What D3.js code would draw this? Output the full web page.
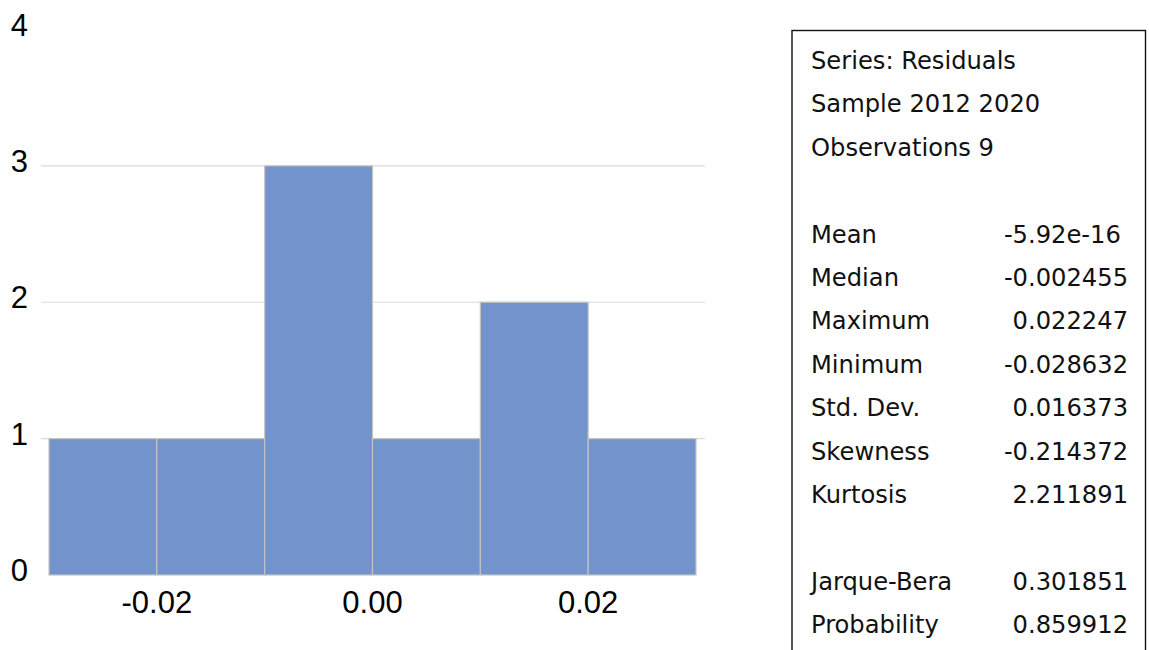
<!DOCTYPE html>
<html>
<head>
<meta charset="utf-8">
<script src="https://cdn.jsdelivr.net/npm/d3@7"></script>
<style>
  html, body { margin: 0; padding: 0; background: #fff; }
  svg { display: block; }
</style>
</head>
<body>
<svg id="chart" width="1149" height="650"></svg>
<script>
// ---- data ----
const binStarts = [-0.03, -0.02, -0.01, 0.00, 0.01, 0.02];
const binWidth = 0.01;
const counts = [1, 1, 3, 1, 2, 1];
const xTicks = [-0.02, 0.00, 0.02];
const yTicks = [0, 1, 2, 3, 4];
const gridValues = [1, 2, 3];
const headerLines = ["Series: Residuals", "Sample 2012 2020", "Observations 9"];
const statNames = ["Mean", "Median", "Maximum", "Minimum", "Std. Dev.", "Skewness", "Kurtosis"];
const statValues = ["-5.92e-16", "-0.002455", "0.022247", "-0.028632", "0.016373", "-0.214372", "2.211891"];
const testNames = ["Jarque-Bera", "Probability"];
const testValues = ["0.301851", "0.859912"];

// ---- drawing ----
const svg = d3.select("#chart");
const x = d3.scaleLinear().domain([-0.03, 0.03]).range([49, 696]);
const y = d3.scaleLinear().domain([0, 4]).range([575, 29.5]);
const fmtX = d => d3.format(".2f")(d).replace("\u2212", "-");

// gridlines
svg.append("g").selectAll("line").data(gridValues).join("line")
  .attr("x1", 41).attr("x2", 705)
  .attr("y1", d => y(d)).attr("y2", d => y(d))
  .attr("stroke", "#dcdcdc").attr("stroke-width", 1.2);

// bars
svg.append("g").selectAll("rect").data(binStarts).join("rect")
  .attr("x", d => x(d))
  .attr("width", d => x(d + binWidth) - x(d))
  .attr("y", (d, i) => y(counts[i]))
  .attr("height", (d, i) => y(0) - y(counts[i]))
  .attr("fill", "#7293cb")
  .attr("stroke", "#c4c4c4").attr("stroke-width", 1.2);

// y tick labels
svg.append("g").selectAll("text").data(yTicks).join("text")
  .attr("x", 28).attr("y", d => y(d) + 6)
  .attr("text-anchor", "end")
  .attr("font-family", "Liberation Sans, Arial, sans-serif")
  .attr("font-size", 31).attr("fill", "#000")
  .text(d => d3.format("d")(d));

// x tick labels
svg.append("g").selectAll("text").data(xTicks).join("text")
  .attr("x", d => x(d)).attr("y", 613)
  .attr("text-anchor", "middle")
  .attr("font-family", "Liberation Sans, Arial, sans-serif")
  .attr("font-size", 31).attr("fill", "#000")
  .text(fmtX);

// stats box
svg.append("rect")
  .attr("x", 792).attr("y", 30.5)
  .attr("width", 1145.5 - 792).attr("height", 700)
  .attr("fill", "none").attr("stroke", "#111").attr("stroke-width", 1.4);

const lineY = i => 69 + i * 43.4;
const fontF = "DejaVu Sans, sans-serif";
const fs = 24.2;
const labelX = 811;
const decX = 1028;

const g = svg.append("g").attr("font-family", fontF).attr("font-size", fs).attr("fill", "#111");
headerLines.forEach((t, i) => {
  g.append("text").attr("x", labelX).attr("y", lineY(i)).text(t);
});
function statRow(name, val, i) {
  g.append("text").attr("x", labelX).attr("y", lineY(i)).text(name);
  const p = val.indexOf(".");
  g.append("text").attr("x", decX).attr("y", lineY(i)).attr("text-anchor", "end").text(val.slice(0, p));
  g.append("text").attr("x", decX).attr("y", lineY(i)).attr("text-anchor", "start").text(val.slice(p));
}
statNames.forEach((n, i) => statRow(n, statValues[i], 4 + i));
testNames.forEach((n, i) => statRow(n, testValues[i], 12 + i));
</script>
</body>
</html>
